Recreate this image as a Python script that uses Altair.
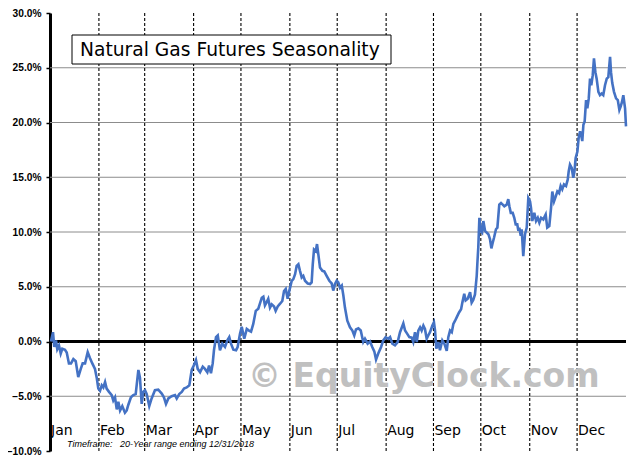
import pandas as pd
import altair as alt

# seasonal average path, % change from Jan 1 (x = day of year)
day = [
    0.6, 1.9, 2.7, 3.8, 4.6, 5.7, 6.8, 7.8, 9.5, 10.6, 12.0, 13.3, 14.8, 16.3, 17.9, 19.5,
    20.7, 22.2, 23.9, 25.3, 26.8, 28.5, 29.6, 30.6, 31.7, 32.8, 33.8, 34.9, 35.9, 37.4,
    39.1, 40.1, 41.2, 42.3, 43.3, 44.4, 45.8, 47.5, 48.6, 49.6, 51.3, 52.8, 54.3, 56.0,
    57.0, 58.1, 59.1, 60.2, 61.3, 62.9, 64.4, 66.5, 68.6, 70.8, 72.2, 73.5, 75.0, 77.1,
    79.2, 80.3, 81.9, 83.5, 84.9, 86.6, 88.3, 89.8, 90.8, 92.5, 93.6, 95.1, 96.8, 98.2,
    99.7, 100.8, 102.0, 103.1, 103.9, 105.2, 106.3, 107.7, 109.2, 110.9, 112.4, 113.6,
    114.7, 116.2, 117.9, 118.9, 120.4, 121.5, 123.1, 124.7, 126.1, 127.4, 128.8, 130.4,
    132.0, 134.2, 135.2, 136.2, 137.3, 138.3, 139.4, 140.5, 142.0, 143.0, 144.3, 145.8,
    147.2, 148.3, 149.4, 150.6, 151.6, 153.2, 154.2, 155.3, 156.3, 157.4, 158.4, 159.5,
    160.5, 161.6, 163.3, 164.8, 165.8, 166.5, 167.3, 168.4, 169.2, 170.0, 171.1, 172.6,
    173.8, 175.3, 177.0, 178.5, 179.5, 180.6, 181.7, 182.7, 183.8, 184.9, 185.9, 186.9,
    188.4, 190.1, 191.6, 192.8, 193.9, 195.4, 196.9, 198.5, 199.6, 201.3, 202.8, 204.2,
    205.5, 206.6, 208.0, 209.8, 211.2, 212.7, 214.4, 215.5, 216.9, 218.6, 220.3, 221.8,
    223.9, 225.0, 226.4, 227.7, 229.2, 230.2, 231.3, 232.4, 233.4, 234.5, 235.5, 236.6,
    237.6, 238.7, 239.7, 240.8, 242.3, 243.3, 244.0, 244.8, 246.1, 247.1, 248.6, 249.9,
    251.4, 252.4, 253.5, 254.6, 255.6, 256.7, 257.7, 259.2, 260.5, 261.3, 262.5, 263.4,
    264.7, 266.2, 267.2, 268.2, 269.3, 270.4, 270.8, 271.4, 272.1, 272.9, 273.8, 274.6,
    275.7, 276.7, 277.8, 278.8, 279.7, 280.5, 281.4, 282.6, 283.5, 284.7, 285.8, 286.9,
    287.9, 289.4, 290.4, 291.1, 292.0, 293.2, 294.2, 295.1, 296.1, 296.8, 297.4, 298.3,
    298.9, 299.9, 301.0, 302.1, 303.1, 304.2, 304.8, 305.6, 306.9, 308.0, 309.1, 310.1,
    311.2, 312.6, 314.1, 315.1, 316.4, 317.5, 318.3, 319.4, 320.5, 321.5, 322.6, 323.6,
    324.6, 325.7, 327.0, 328.1, 328.7, 329.5, 330.6, 331.6, 332.3, 333.1, 334.2, 335.0,
    335.9, 336.5, 337.3, 338.0, 338.8, 339.7, 340.5, 341.4, 342.2, 343.0, 343.9, 344.7,
    345.6, 346.4, 347.5, 348.5, 349.6, 350.6, 351.7, 352.8, 353.8, 354.9, 355.5, 356.3,
    357.4, 358.7, 359.8, 360.8, 361.6, 362.5, 363.3, 364.4, 365.0,
]
pct = [
    0.0, 0.85, -0.5, 0.1, -0.7, -0.36, -1.1, -0.66, -0.75, -1.0, -2.0, -2.0, -1.6, -1.8, -3.25, -2.5,
    -2.0, -2.0, -0.97, -1.5, -2.0, -2.5, -3.3, -4.3, -4.5, -4.0, -4.2, -3.7, -4.3, -4.6,
    -4.9, -5.4, -5.1, -6.2, -5.5, -6.3, -5.9, -6.5, -6.3, -5.8, -5.1, -4.9, -4.8, -2.6,
    -3.3, -5.7, -4.6, -4.45, -4.8, -5.9, -5.2, -4.45, -4.4, -4.75, -5.1, -5.7, -5.2, -5.0,
    -4.9, -5.2, -4.8, -4.6, -4.3, -4.2, -4.0, -2.6, -2.3, -1.7, -2.5, -2.8, -2.3, -2.5,
    -2.8, -2.2, -2.9, -2.0, -0.8, 0.4, 0.55, -0.8, -0.2, -0.5, 0.1, 0.4,
    -0.2, -0.75, -0.8, -0.5, 0.7, 1.35, 0.25, 1.15, 1.0, 0.9, 1.6, 2.8,
    3.0, 4.0, 4.1, 3.3, 3.6, 3.9, 3.1, 3.4, 3.2, 2.8, 3.2, 3.45,
    3.7, 4.6, 4.8, 3.9, 4.6, 5.55, 5.7, 6.15, 6.9, 7.05, 6.45, 5.85,
    6.0, 5.55, 5.3, 5.25, 5.4, 7.05, 8.4, 8.25, 8.9, 8.0, 6.75, 6.45,
    6.4, 6.0, 5.55, 5.3, 4.65, 5.25, 5.55, 5.4, 4.9, 5.1, 4.2, 3.1,
    1.9, 1.3, 1.0, 0.55, 1.1, 1.2, 1.0, -0.05, 0.25, -0.2, 0.0, -0.5,
    -0.9, -1.65, -1.1, -0.5, 0.1, 0.4, 0.25, 0.4, -0.2, -0.35, -0.05, 0.85,
    1.65, 1.0, 0.7, 0.4, 0.35, -0.05, 0.85, -0.05, 1.0, 1.3, 1.0, 1.45,
    1.15, 0.25, 0.55, 0.85, 1.45, 1.75, 1.0, -0.65, -0.05, -0.8, 0.1, -0.2,
    -0.85, 0.4, 1.0, 0.85, 1.6, 1.9, 2.2, 2.65, 2.95, 3.55, 4.35, 3.75,
    3.9, 4.5, 3.55, 3.8, 4.3, 6.0, 7.1, 8.6, 11.3, 10.1, 9.95, 11.0,
    10.1, 9.95, 9.8, 9.35, 8.5, 9.0, 9.5, 10.25, 10.4, 12.5, 12.65, 12.5,
    12.35, 12.5, 13.0, 12.35, 11.75, 11.75, 11.3, 10.7, 10.7, 10.1, 10.4, 9.65,
    10.25, 7.8, 9.8, 10.4, 13.1, 12.8, 12.2, 11.0, 11.75, 11.0, 11.3, 10.85,
    11.3, 11.15, 11.6, 10.4, 10.55, 12.2, 13.7, 12.8, 13.25, 13.7, 13.55, 14.2,
    13.9, 14.35, 14.2, 14.8, 15.55, 16.15, 15.85, 14.95, 15.5, 16.75, 17.35, 18.6,
    19.2, 18.9, 18.3, 19.8, 20.1, 22.05, 21.3, 22.2, 24.0, 23.4, 24.3, 25.85,
    24.6, 24.0, 22.8, 22.5, 22.65, 22.5, 23.4, 24.0, 24.15, 26.0, 24.6, 23.6,
    22.8, 22.2, 22.05, 21.15, 21.45, 21.9, 22.5, 21.3, 19.65,
]

months = ["Jan", "Feb", "Mar", "Apr", "May", "Jun", "Jul", "Aug", "Sep", "Oct", "Nov", "Dec"]
month_start = [0, 31, 60, 91, 121, 152, 182, 213, 243, 273, 304, 334]
grid_values = [-5, 5, 10, 15, 20, 25]
y_ticks = [-10, -5, 0, 5, 10, 15, 20, 25, 30]

series = pd.DataFrame({"day": day, "pct": pct})
month_df = pd.DataFrame({"day": month_start, "month": months})
grid_df = pd.DataFrame({"pct": grid_values})
one = pd.DataFrame({"k": [0]})

x_scale = alt.Scale(domain=[0, 365], nice=False, zero=False)
y_scale = alt.Scale(domain=[-10, 30], nice=False, zero=False)

y_axis = alt.Axis(
    values=y_ticks,
    labelExpr="format(datum.value, '.1f') + '%'",
    grid=False,
    domainColor="black",
    domainWidth=3,
    tickColor="black",
    tickSize=4,
    tickWidth=1.5,
    labelFont="Liberation Sans",
    labelFontWeight="bold",
    labelFontSize=10.2,
    labelColor="black",
    labelPadding=5,
)

grid = (
    alt.Chart(grid_df)
    .mark_rule(color="#8c8c8c", strokeWidth=1)
    .encode(y=alt.Y("pct:Q", scale=y_scale, title=None, axis=y_axis))
)

zero_line = (
    alt.Chart(one)
    .mark_rule(color="black", strokeWidth=3)
    .encode(y=alt.Y(datum=0, scale=y_scale, title=None, axis=y_axis))
)

month_lines = (
    alt.Chart(month_df[month_df["day"] > 0])
    .mark_rule(color="black", strokeWidth=1.1, strokeDash=[3, 2])
    .encode(x=alt.X("day:Q", scale=x_scale, axis=None))
)

month_labels = (
    alt.Chart(month_df)
    .mark_text(align="left", baseline="alphabetic", dx=1, font="DejaVu Sans", fontSize=14, color="black")
    .encode(x=alt.X("day:Q", scale=x_scale, axis=None), y=alt.value(422), text="month:N")
)

watermark = (
    alt.Chart(one)
    .mark_text(
        align="left", baseline="alphabetic", font="DejaVu Sans", fontWeight="bold",
        fontSize=33, color="#c0c0c0",
    )
    .encode(x=alt.value(198), y=alt.value(374), text=alt.value("© EquityClock.com"))
)

title_box = (
    alt.Chart(one)
    .mark_rect(fill="white", stroke="black", strokeWidth=1)
    .encode(x=alt.value(22), x2=alt.value(341), y=alt.value(22), y2=alt.value(51))
)

title_text = (
    alt.Chart(one)
    .mark_text(align="left", baseline="alphabetic", font="DejaVu Sans", fontSize=18.7, color="black")
    .encode(x=alt.value(30), y=alt.value(43), text=alt.value("Natural Gas Futures Seasonality"))
)

timeframe = (
    alt.Chart(one)
    .mark_text(
        align="left", baseline="alphabetic", font="Liberation Sans", fontStyle="italic",
        fontSize=9, color="black",
    )
    .encode(
        x=alt.value(17),
        y=alt.value(434),
        text=alt.value("Timeframe:\u00a0\u00a0 20-Year range ending 12/31/2018"),
    )
)

line = (
    alt.Chart(series)
    .mark_line(color="#4472c4", strokeWidth=2.6)
    .encode(
        x=alt.X("day:Q", scale=x_scale, axis=None),
        y=alt.Y("pct:Q", scale=y_scale, title=None, axis=y_axis),
    )
)

chart = (
    alt.layer(
        grid, zero_line, month_lines, watermark, title_box, title_text,
        month_labels, timeframe, line,
    )
    .properties(
        width=576,
        height=438,
        padding={"left": 42, "top": 5, "right": 3, "bottom": 4},
        autosize=alt.AutoSizeParams(type="none"),
    )
    .configure_view(stroke=None)
)

chart.save("out.html", embed_options={"renderer": "svg", "actions": False})
